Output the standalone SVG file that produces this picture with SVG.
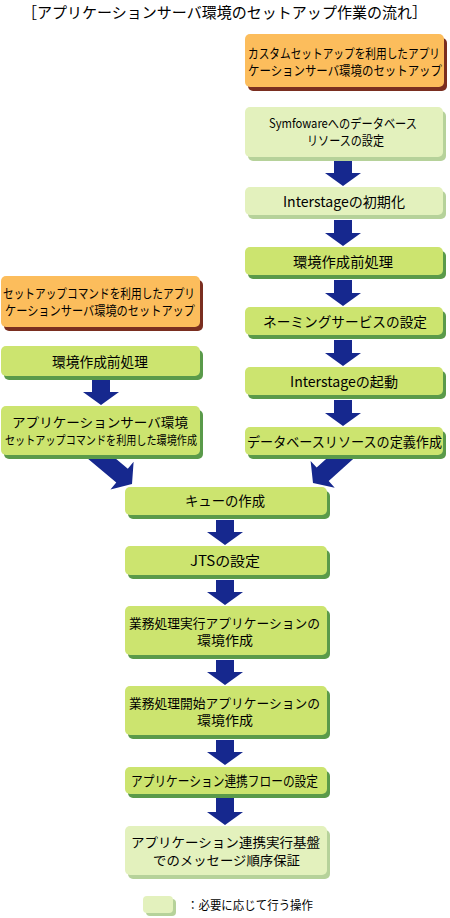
<svg xmlns="http://www.w3.org/2000/svg" width="450" height="918" viewBox="0 0 450 918">
<defs>
<style>
text{font-family:"Noto Sans CJK JP","Liberation Sans",sans-serif;font-size:14px;fill:#000;}
.t{font-size:15px;}
.m{font-size:13px;}
.s{font-size:12px;}
.og{fill:#FCBD5C;}
.ogs{fill:#7A2E20;}
.gr{fill:#CCE46F;}
.grs{fill:#5A9A4A;}
.lg{fill:#E3F1BD;}
.lgs{fill:#B6D29A;}
.ar{fill:#16288E;}
</style>
</defs>
<rect width="450" height="918" fill="#fff"/>
<text class="t" x="22" y="18" textLength="405" lengthAdjust="spacingAndGlyphs">［アプリケーションサーバ環境のセットアップ作業の流れ］</text>
<g id="connectors">
<path class="ar" d="M334,161H352V173H361L343,186L325,173H334Z"/>
<path class="ar" d="M334,220H352V233H361L343,246L325,233H334Z"/>
<path class="ar" d="M334,280H352V293H361L343,306L325,293H334Z"/>
<path class="ar" d="M334,340H352V353H361L343,366L325,353H334Z"/>
<path class="ar" d="M334,400H352V413H361L343,426L325,413H334Z"/>
<path class="ar" d="M92,380H110V392H119L101,405L83,392H92Z"/>
<path class="ar" d="M216,520H234V532H243L225,545L207,532H216Z"/>
<path class="ar" d="M216,580H234V592H243L225,605L207,592H216Z"/>
<path class="ar" d="M216,660H234V672H243L225,685L207,672H216Z"/>
<path class="ar" d="M216,740H234V752H243L225,765L207,752H216Z"/>
<path class="ar" d="M216,798H234V812H243L225,825L207,812H216Z"/>
<path class="ar" transform="translate(132,484) rotate(-50)" d="M-9,-50H9V-13H18L0,0L-18,-13H-9Z"/>
<path class="ar" transform="translate(313,483) rotate(48)" d="M-9,-50H9V-13H18L0,0L-18,-13H-9Z"/>
</g>
<g id="n1">
<rect class="ogs" x="248" y="38" width="199" height="53" rx="5"/>
<rect class="og" x="245" y="34" width="199" height="53" rx="5"/>
<text class="m" x="248" y="58" textLength="192" lengthAdjust="spacingAndGlyphs">カスタムセットアップを利用したアプリ</text>
<text class="m" x="248" y="75" textLength="194" lengthAdjust="spacingAndGlyphs">ケーションサーバ環境のセットアップ</text>
</g>
<g id="n2">
<rect class="lgs" x="248" y="111" width="198" height="50" rx="5"/>
<rect class="lg" x="245" y="107" width="198" height="50" rx="5"/>
<text class="m" x="269" y="128" textLength="148" lengthAdjust="spacingAndGlyphs">Symfowareへのデータベース</text>
<text class="m" x="307" y="145" textLength="77" lengthAdjust="spacingAndGlyphs">リソースの設定</text>
</g>
<g id="n3">
<rect class="lgs" x="248" y="191" width="198" height="28" rx="5"/>
<rect class="lg" x="245" y="187" width="198" height="28" rx="5"/>
<text x="283" y="207" textLength="122" lengthAdjust="spacingAndGlyphs">Interstageの初期化</text>
</g>
<g id="n4">
<rect class="grs" x="248" y="251" width="198" height="28" rx="5"/>
<rect class="gr" x="245" y="247" width="198" height="28" rx="5"/>
<text x="293" y="267" textLength="100" lengthAdjust="spacingAndGlyphs">環境作成前処理</text>
</g>
<g id="n5">
<rect class="grs" x="248" y="311" width="198" height="28" rx="5"/>
<rect class="gr" x="245" y="307" width="198" height="28" rx="5"/>
<text x="263" y="327" textLength="164" lengthAdjust="spacingAndGlyphs">ネーミングサービスの設定</text>
</g>
<g id="n6">
<rect class="grs" x="248" y="371" width="198" height="28" rx="5"/>
<rect class="gr" x="245" y="367" width="198" height="28" rx="5"/>
<text x="290" y="387" textLength="108" lengthAdjust="spacingAndGlyphs">Interstageの起動</text>
</g>
<g id="n7">
<rect class="grs" x="248" y="431" width="198" height="28" rx="5"/>
<rect class="gr" x="245" y="427" width="198" height="28" rx="5"/>
<text x="247" y="447" textLength="195" lengthAdjust="spacingAndGlyphs">データベースリソースの定義作成</text>
</g>
<g id="n8">
<rect class="ogs" x="4" y="280" width="199" height="51" rx="5"/>
<rect class="og" x="1" y="276" width="199" height="51" rx="5"/>
<text class="m" x="3" y="298" textLength="192" lengthAdjust="spacingAndGlyphs">セットアップコマンドを利用したアプリ</text>
<text class="m" x="5" y="315" textLength="190" lengthAdjust="spacingAndGlyphs">ケーションサーバ環境のセットアップ</text>
</g>
<g id="n9">
<rect class="grs" x="4" y="350" width="199" height="30" rx="5"/>
<rect class="gr" x="1" y="346" width="199" height="30" rx="5"/>
<text x="52" y="367" textLength="96" lengthAdjust="spacingAndGlyphs">環境作成前処理</text>
</g>
<g id="n10">
<rect class="grs" x="4" y="410" width="199" height="49" rx="5"/>
<rect class="gr" x="1" y="406" width="199" height="49" rx="5"/>
<text class="m" x="12" y="427" textLength="176" lengthAdjust="spacingAndGlyphs">アプリケーションサーバ環境</text>
<text class="s" x="5" y="445" textLength="192" lengthAdjust="spacingAndGlyphs">セットアップコマンドを利用した環境作成</text>
</g>
<g id="n11">
<rect class="grs" x="128" y="491" width="202" height="28" rx="5"/>
<rect class="gr" x="125" y="487" width="202" height="28" rx="5"/>
<text x="185" y="506" textLength="80" lengthAdjust="spacingAndGlyphs">キューの作成</text>
</g>
<g id="n12">
<rect class="grs" x="128" y="550" width="202" height="29" rx="5"/>
<rect class="gr" x="125" y="546" width="202" height="29" rx="5"/>
<text x="190" y="566" textLength="70" lengthAdjust="spacingAndGlyphs">JTSの設定</text>
</g>
<g id="n13">
<rect class="grs" x="128" y="610" width="202" height="49" rx="5"/>
<rect class="gr" x="125" y="606" width="202" height="49" rx="5"/>
<text class="m" x="129" y="628" textLength="191" lengthAdjust="spacingAndGlyphs">業務処理実行アプリケーションの</text>
<text class="m" x="197" y="645" textLength="56" lengthAdjust="spacingAndGlyphs">環境作成</text>
</g>
<g id="n14">
<rect class="grs" x="128" y="690" width="202" height="49" rx="5"/>
<rect class="gr" x="125" y="686" width="202" height="49" rx="5"/>
<text class="m" x="129" y="708" textLength="191" lengthAdjust="spacingAndGlyphs">業務処理開始アプリケーションの</text>
<text class="m" x="197" y="725" textLength="56" lengthAdjust="spacingAndGlyphs">環境作成</text>
</g>
<g id="n15">
<rect class="grs" x="128" y="771" width="202" height="27" rx="5"/>
<rect class="gr" x="125" y="767" width="202" height="27" rx="5"/>
<text x="131" y="786" textLength="187" lengthAdjust="spacingAndGlyphs">アプリケーション連携フローの設定</text>
</g>
<g id="n16">
<rect class="lgs" x="128" y="830" width="202" height="49" rx="5"/>
<rect class="lg" x="125" y="826" width="202" height="49" rx="5"/>
<text class="m" x="131" y="847" textLength="189" lengthAdjust="spacingAndGlyphs">アプリケーション連携実行基盤</text>
<text class="m" x="153" y="865" textLength="147" lengthAdjust="spacingAndGlyphs">でのメッセージ順序保証</text>
</g>
<g id="legend">
<rect class="lgs" x="146" y="899" width="30" height="17" rx="4"/>
<rect class="lg" x="143" y="896" width="30" height="17" rx="4"/>
<text class="s" x="187" y="910" textLength="126" lengthAdjust="spacingAndGlyphs">：必要に応じて行う操作</text>
</g>
</svg>
